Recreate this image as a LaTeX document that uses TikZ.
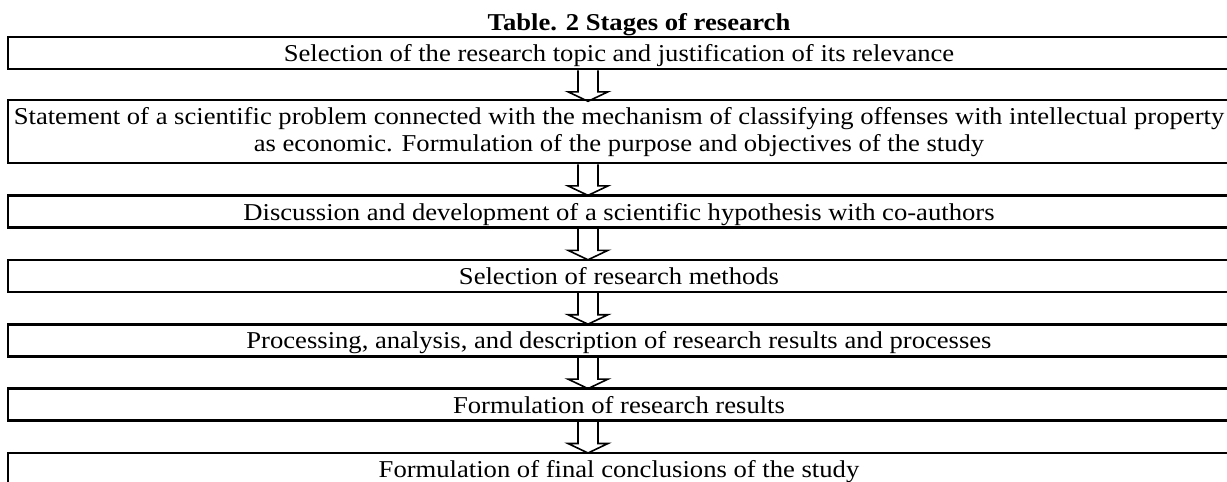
\documentclass[tikz,border=0pt]{standalone}
\usepackage{fontspec}
\setmainfont[FakeStretch=1.1]{Liberation Serif}
\usetikzlibrary{positioning}

\tikzset{
  stagebox/.style={draw, line width=2.6pt, minimum width=1222pt, minimum height=32pt,
    inner sep=0pt, align=center, font=\fontsize{24.2}{27}\selectfont},
  stage/.style={stagebox, text height=19pt, text depth=2pt},
  downarrow/.style={line width=1.6pt, line join=miter}
}

\begin{document}
\begin{tikzpicture}[x=1pt, y=1pt, node distance=29.8pt]
        % Page frame (the last stage runs off the bottom and the right)
        \useasboundingbox (0,0) rectangle (1227,-482);
        \clip (0,0) rectangle (1227,-482);

        % Title
        \node[font=\bfseries\fontsize{24.2}{27}\selectfont, anchor=base] (T) at (639,-30) {Table. 2 Stages of research};

        % Stages of the study
        \node[stage] (S1) at (619,-53) {Selection of the research topic and justification of its relevance};
        \node[stagebox, minimum height=63pt, below=28.5pt of S1] (S2) {Statement of a scientific problem connected with the mechanism of classifying offenses with intellectual property\\ as economic. Formulation of the purpose and objectives of the study};
        \node[stage, below=of S2] (S3) {Discussion and development of a scientific hypothesis with co-authors};
        \node[stage, below=of S3] (S4) {Selection of research methods};
        \node[stage, below=of S4] (S5) {Processing, analysis, and description of research results and processes};
        \node[stage, below=of S5] (S6) {Formulation of research results};
        \node[stage, below=of S6] (S7) {Formulation of final conclusions of the study};

        % Hollow arrows between the stages
        \coordinate (X) at (588,0);
        \foreach \a/\b in {S1/S2, S2/S3, S3/S4, S4/S5, S5/S6, S6/S7}
          \draw[downarrow] (X |- \a.south) ++(-10,0) -- ++(0,-21.5) -- ++(-10,0)
            -- ++(20,-9.5) -- ++(20,9.5) -- ++(-10,0) -- ++(0,21.5);

    \end{tikzpicture}
\end{document}
